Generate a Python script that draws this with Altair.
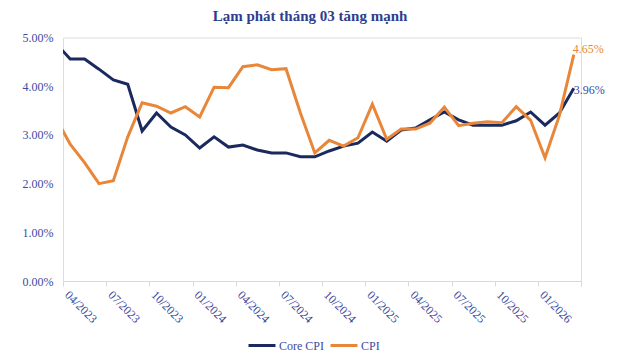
import altair as alt
import pandas as pd

months = ["03/2023", "04/2023", "05/2023", "06/2023", "07/2023", "08/2023", "09/2023", "10/2023",
          "11/2023", "12/2023", "01/2024", "02/2024", "03/2024", "04/2024", "05/2024", "06/2024",
          "07/2024", "08/2024", "09/2024", "10/2024", "11/2024", "12/2024", "01/2025", "02/2025",
          "03/2025", "04/2025", "05/2025", "06/2025", "07/2025", "08/2025", "09/2025", "10/2025",
          "11/2025", "12/2025", "01/2026", "02/2026", "03/2026"]

core_cpi = [4.88, 4.56, 4.56, 4.35, 4.13, 4.04, 3.08, 3.45, 3.16, 3.00, 2.73, 2.96, 2.75,
            2.79, 2.69, 2.63, 2.63, 2.55, 2.55, 2.67, 2.77, 2.83, 3.06, 2.87, 3.10, 3.14,
            3.31, 3.47, 3.31, 3.20, 3.20, 3.20, 3.29, 3.47, 3.20, 3.45, 3.96]

cpi = [3.35, 2.81, 2.43, 2.00, 2.06, 2.96, 3.66, 3.59, 3.45, 3.58, 3.37, 3.98, 3.97,
       4.40, 4.44, 4.34, 4.36, 3.45, 2.63, 2.89, 2.77, 2.94, 3.63, 2.91, 3.12, 3.12,
       3.24, 3.57, 3.19, 3.24, 3.27, 3.25, 3.58, 3.30, 2.53, 3.40, 4.65]

series_names = ["Core CPI", "CPI"]
series_colors = ["#1b2a5e", "#e8873a"]
label_colors = {"Core CPI": "#3d4a9e", "CPI": "#e8873a"}

rows = []
for i, m in enumerate(months):
    rows.append({"idx": i - 1, "month": m, "series": "Core CPI", "value": core_cpi[i] / 100})
    rows.append({"idx": i - 1, "month": m, "series": "CPI", "value": cpi[i] / 100})
df = pd.DataFrame(rows)

FONT = "Liberation Serif"
TXT = "#3d4a9e"

tick_vals = [-0.5 + 3 * j for j in range(13)]
label_vals = [3 * j for j in range(12)]
axis_vals = sorted(tick_vals + label_vals)

label_list = "[" + ",".join("'" + m + "'" for m in months[1:]) + "]"
label_expr = f"(datum.value >= 0 && datum.value % 3 == 0) ? {label_list}[datum.value] : ''"

x = alt.X("idx:Q",
          scale=alt.Scale(domain=[-0.5, 35.5], nice=False, zero=False),
          axis=alt.Axis(values=axis_vals, title=None, grid=False, labelExpr=label_expr,
                        labelAngle=45, labelAlign="left", labelBaseline="top",
                        labelFont=FONT, labelFontSize=12, labelColor=TXT, labelPadding=3,
                        labelOverlap=False, labelFlush=False,
                        tickSize=5,
                        tickColor={"condition": {"test": "datum.value % 3 == 0", "value": "transparent"}, "value": "#d9d9d9"},
                        domainColor="#d9d9d9", domainWidth=1))

y = alt.Y("value:Q",
          scale=alt.Scale(domain=[0, 0.05], nice=False),
          axis=alt.Axis(values=[0, 0.01, 0.02, 0.03, 0.04, 0.05], format=".2%", title=None,
                        grid=False, domain=False, ticks=False, labelFont=FONT, labelFontSize=12,
                        labelColor=TXT, labelPadding=10))

color = alt.Color("series:N",
                  scale=alt.Scale(domain=series_names, range=series_colors),
                  legend=alt.Legend(title=None, orient="none", legendX=184, legendY=293,
                                    direction="horizontal", symbolType="stroke",
                                    symbolSize=729, symbolStrokeWidth=3, labelFont=FONT,
                                    labelFontSize=12, labelColor=TXT, labelOffset=2,
                                    columnPadding=0))

lines = alt.Chart(df).mark_line(strokeWidth=3, clip=True).encode(
    x=x, y=y, color=color, order="idx:Q")

last_idx = len(months) - 2
cpi_label = alt.Chart(df).transform_filter(
    f"datum.idx == {last_idx} && datum.series == 'CPI'"
).mark_text(align="left", baseline="alphabetic", font=FONT, fontSize=12, dx=-1, dy=-2,
            color=label_colors["CPI"]).encode(
    x=x, y=y, text=alt.Text("value:Q", format=".2%"))

core_label = alt.Chart(df).transform_filter(
    f"datum.idx == {last_idx} && datum.series == 'Core CPI'"
).mark_text(align="left", baseline="alphabetic", font=FONT, fontSize=12, dx=0, dy=6,
            color=label_colors["Core CPI"]).encode(
    x=x, y=y, text=alt.Text("value:Q", format=".2%"))

chart = alt.layer(lines, cpi_label, core_label).properties(
    width=518, height=243.5,
    autosize=alt.AutoSizeParams(type="none"),
    padding={"left": 55, "top": 29.5, "right": 51, "bottom": 71},
    title=alt.TitleParams("Lạm phát tháng 03 tăng mạnh", anchor="middle", font=FONT,
                          fontSize=15, fontWeight="bold", color="#2e3d8f", dx=-12, offset=8),
).configure_view(strokeWidth=0, stroke="transparent").configure_axisY(
    domain=False, ticks=False, grid=False
).configure(background="white")

chart.save("out.html", embed_options={"renderer": "svg", "actions": False})
